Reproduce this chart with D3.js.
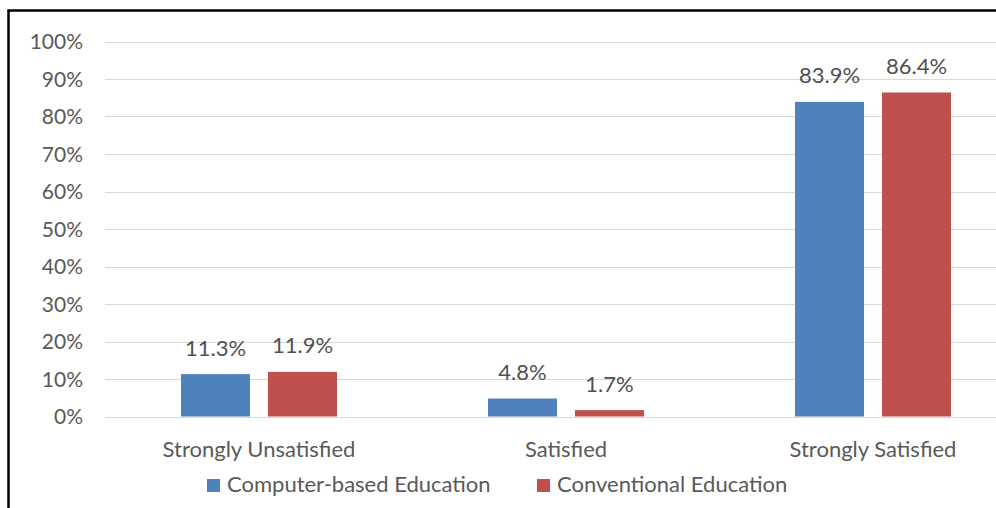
<!DOCTYPE html>
<html>
<head>
<meta charset="utf-8">
<script src="https://cdn.jsdelivr.net/npm/d3@7"></script>
<style>
  body { margin: 0; background: #fff; }
  svg { display: block; font-family: Lato, "Open Sans", sans-serif; }
</style>
</head>
<body>
<script>
// chart values
var categories = ["Strongly Unsatisfied", "Satisfied", "Strongly Satisfied"]
var seriesNames = ["Computer-based Education", "Conventional Education"]
var computerBased = [11.3, 4.8, 83.9]
var conventional = [11.9, 1.7, 86.4]
var yTicks = [0, 10, 20, 30, 40, 50, 60, 70, 80, 90, 100]
var colors = ["#4f81bd", "#c0504d"]

var w = 996, h = 508

var svg = d3.select("body").append("svg")
    .attr("width", w).attr("height", h)

// frame (the chart box runs off the right and bottom of the picture)
svg.append("rect")
    .attr("x", 8.5).attr("y", 10.5)
    .attr("width", 1100).attr("height", 600)
    .attr("fill", "none").attr("stroke", "#000").attr("stroke-width", 2.5)

// plot runs past the right edge
var x = d3.scaleBand().domain(categories).range([105.5, 1026.5])
var y = d3.scaleLinear().domain([0, 100]).range([416.5, 41.5])

var barW = 69, gap = 18
var rows = categories.map(function(c, i) {
  return [computerBased[i], conventional[i]]
})

// gridlines
svg.append("g").selectAll("line")
    .data(yTicks)
  .enter().append("line")
    .attr("x1", 105).attr("x2", w)
    .attr("y1", function(d) { return Math.round(y(d)) + 0.5 })
    .attr("y2", function(d) { return Math.round(y(d)) + 0.5 })
    .attr("stroke", "#d9d9d9").attr("stroke-width", 1)

// y tick labels
svg.append("g").selectAll("text")
    .data(yTicks)
  .enter().append("text")
    .attr("x", 83)
    .attr("y", function(d) { return y(d) })
    .attr("dy", "0.36em")
    .attr("text-anchor", "end")
    .attr("fill", "#595959")
    .style("font-size", "21px")
    .text(function(d) { return d + "%" })

// bars
var group = svg.append("g").selectAll("g")
    .data(rows)
  .enter().append("g")
    .attr("transform", function(d, i) {
      return "translate(" + (x(categories[i]) + x.bandwidth() / 2) + ",0)"
    })

function barX(j) { return j === 0 ? -(barW + gap / 2) : gap / 2 }

group.selectAll("rect")
    .data(function(d) { return d })
  .enter().append("rect")
    .attr("x", function(d, j) { return barX(j) })
    .attr("y", function(d) { return y(d) })
    .attr("width", barW)
    .attr("height", function(d) { return y(0) - y(d) })
    .attr("fill", function(d, j) { return colors[j] })

group.selectAll("text")
    .data(function(d) { return d })
  .enter().append("text")
    .attr("x", function(d, j) { return barX(j) + barW / 2 })
    .attr("y", function(d) { return y(d) - 18.5 })
    .attr("text-anchor", "middle")
    .attr("fill", "#505050")
    .style("font-size", "22px")
    .text(function(d) { return d.toFixed(1) + "%" })

// category labels
svg.append("g").selectAll("text")
    .data(categories)
  .enter().append("text")
    .attr("x", function(d) { return x(d) + x.bandwidth() / 2 })
    .attr("y", 457)
    .attr("text-anchor", "middle")
    .attr("fill", "#595959")
    .style("font-size", "22px")
    .text(function(d) { return d })

// legend
var legendX = [207, 537]
var legend = svg.append("g").selectAll("g")
    .data(seriesNames)
  .enter().append("g")
    .attr("transform", function(d, i) { return "translate(" + legendX[i] + ",479)" })

legend.append("rect")
    .attr("width", 13).attr("height", 13)
    .attr("fill", function(d, i) { return colors[i] })

legend.append("text")
    .attr("x", 20).attr("y", 13)
    .attr("fill", "#595959")
    .style("font-size", "22px")
    .text(function(d) { return d })
</script>
</body>
</html>
